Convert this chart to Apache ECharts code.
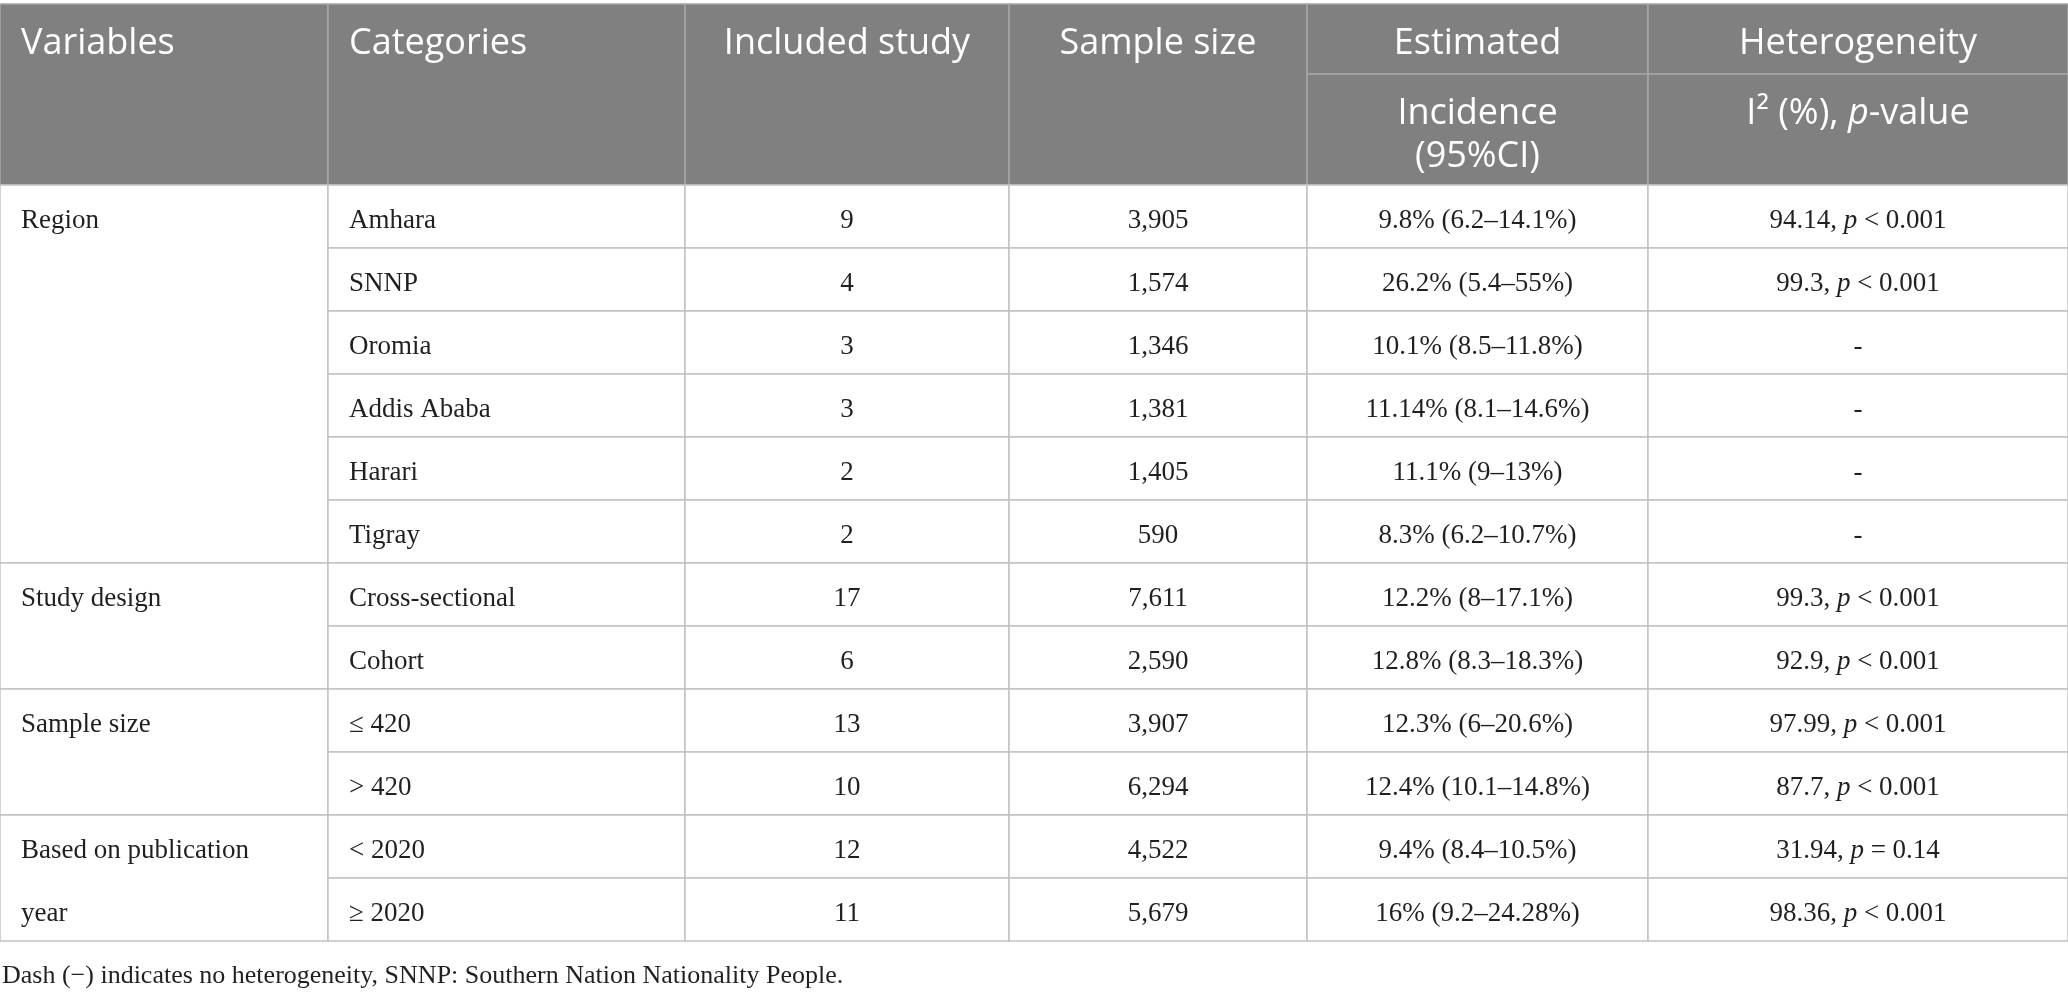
<!DOCTYPE html>
<html><head><meta charset="utf-8">
<script src="https://cdn.jsdelivr.net/npm/echarts@6/dist/echarts.min.js"></script>
<style>html,body{margin:0;padding:0;background:#fff}#c{width:2068px;height:996px}</style>
</head><body><div id="c"></div>
<script>
// ---------- data ----------
const headerTop = ['Variables', 'Categories', 'Included study', 'Sample size', 'Estimated', 'Heterogeneity'];
const headerSub = [null, null, null, null, 'Incidence\n(95%CI)', 'I\u00B2 (%), {i|p}-value'];
const variables = ['Region', 'Study design', 'Sample size', 'Based on publication year'];
const groupSizes = [6, 2, 2, 2];
const categories = ['Amhara', 'SNNP', 'Oromia', 'Addis Ababa', 'Harari', 'Tigray',
  'Cross-sectional', 'Cohort', '\u2264 420', '> 420', '< 2020', '\u2265 2020'];
const includedStudy = [9, 4, 3, 3, 2, 2, 17, 6, 13, 10, 12, 11];
const sampleSize = ['3,905', '1,574', '1,346', '1,381', '1,405', '590', '7,611', '2,590', '3,907', '6,294', '4,522', '5,679'];
const incidence = [9.8, 26.2, 10.1, 11.14, 11.1, 8.3, 12.2, 12.8, 12.3, 12.4, 9.4, 16];
const ciLow = [6.2, 5.4, 8.5, 8.1, 9, 6.2, 8, 8.3, 6, 10.1, 8.4, 9.2];
const ciHigh = [14.1, 55, 11.8, 14.6, 13, 10.7, 17.1, 18.3, 20.6, 14.8, 10.5, 24.28];
const i2 = [94.14, 99.3, null, null, null, null, 99.3, 92.9, 97.99, 87.7, 31.94, 98.36];
const pValue = ['< 0.001', '< 0.001', null, null, null, null, '< 0.001', '< 0.001', '< 0.001', '< 0.001', '= 0.14', '< 0.001'];
const footnote = 'Dash (\u2212) indicates no heterogeneity, SNNP: Southern Nation Nationality People.';

// ---------- layout ----------
const colWidths = [328, 357, 324, 298, 341, 420];
const colAlign = ['left', 'left', 'center', 'center', 'center', 'center'];
const L = { W: 2068, H: 996, top: 4, sub: 74, body: 185, rowH: 63, pad: 21, headPad: 18.5, bodyShift: 4, headLine: 43 };
const colEdges = [0];
colWidths.forEach(w => colEdges.push(colEdges[colEdges.length - 1] + w));
const yr = px => (px - L.body) / L.rowH;

const HEAD_FONT = '"Open Sans", sans-serif';
const BODY_FONT = '"Liberation Serif", serif';
const TXT = '#231f20';

const cells = [];
headerTop.forEach((t, c) => {
  const hasSub = headerSub[c] != null;
  cells.push({ c0: c, c1: c + 1, r0: yr(L.top), r1: hasSub ? yr(L.sub) : 0, text: t, head: true });
  if (hasSub) cells.push({ c0: c, c1: c + 1, r0: yr(L.sub), r1: 0, text: headerSub[c], head: true });
});
let rr = 0;
variables.forEach((v, g) => {
  cells.push({ c0: 0, c1: 1, r0: rr, r1: rr + groupSizes[g], text: v, head: false, wrap: true });
  rr += groupSizes[g];
});
categories.forEach((cat, i) => {
  const row = [
    cat,
    String(includedStudy[i]),
    sampleSize[i],
    incidence[i] + '% (' + ciLow[i] + '\u2013' + ciHigh[i] + '%)',
    i2[i] == null ? '-' : i2[i] + ', {i|p} ' + pValue[i]
  ];
  row.forEach((t, k) => cells.push({ c0: k + 1, c1: k + 2, r0: i, r1: i + 1, text: t, head: false }));
});

const chart = echarts.init(document.getElementById('c'), null, { renderer: 'canvas' });
chart.setOption({
  animation: false,
  title: {
    text: footnote, left: 2, top: 963, padding: 0,
    textStyle: { fontFamily: BODY_FONT, fontSize: 26, fontWeight: 'normal', color: TXT }
  },
  grid: { left: 0, right: 0, top: 0, bottom: 0 },
  xAxis: { type: 'value', min: 0, max: L.W, show: false },
  yAxis: { type: 'value', min: yr(0), max: yr(L.H), inverse: true, show: false },
  series: [{
    type: 'custom',
    clip: false,
    encode: { x: [0, 2], y: [1, 3] },
    data: cells.map(c => [colEdges[c.c0], c.r0, colEdges[c.c1], c.r1]),
    renderItem: function (params, api) {
      const cell = cells[params.dataIndex];
      const p0 = api.coord([api.value(0), api.value(1)]);
      const p1 = api.coord([api.value(2), api.value(3)]);
      const x0 = p0[0], y0 = p0[1], w = p1[0] - p0[0], h = p1[1] - p0[1];
      const rowPx = api.size([0, 1])[1];
      const align = colAlign[cell.c0];
      const tx = align === 'left' ? x0 + L.pad : x0 + w / 2;
      const head = cell.head;
      const fontSize = head ? 36 : 27;
      const fam = head ? HEAD_FONT : BODY_FONT;
      const fill = head ? '#ffffff' : TXT;
      const lh = head ? L.headLine : rowPx;
      const textStyle = {
        x: tx, y: head ? y0 + L.headPad : y0 + L.bodyShift,
        text: cell.text, align: align, verticalAlign: 'top',
        fontSize: fontSize, fontFamily: fam, fill: fill, lineHeight: lh,
        rich: { i: { fontStyle: 'italic', fontSize: fontSize, fontFamily: fam, fill: fill, lineHeight: lh } }
      };
      if (cell.wrap) { textStyle.width = w - L.pad - 50; textStyle.overflow = 'break'; }
      return {
        type: 'group',
        children: [
          { type: 'rect', shape: { x: x0, y: y0, width: w, height: h },
            style: { fill: head ? '#808080' : '#ffffff', stroke: head ? '#a6a6a6' : '#c2c2c2', lineWidth: 1.5 } },
          { type: 'text', style: textStyle }
        ]
      };
    }
  }]
});
</script></body></html>
